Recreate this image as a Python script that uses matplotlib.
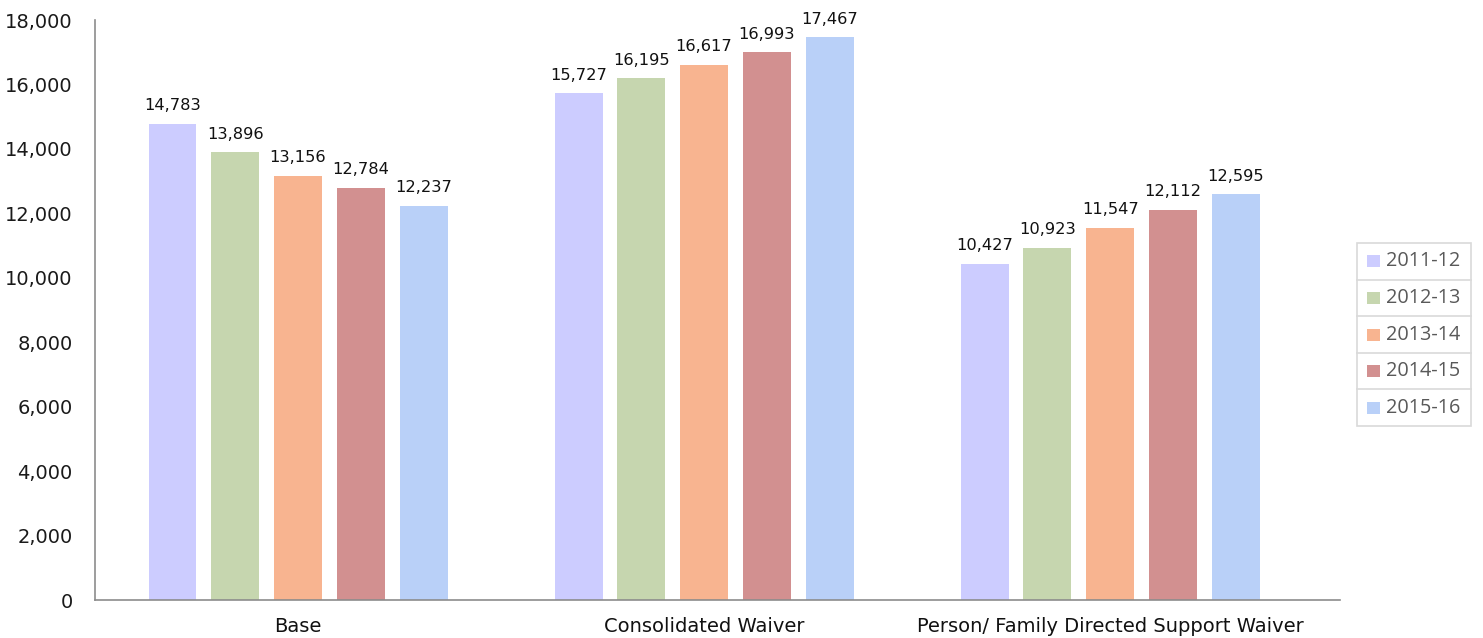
import matplotlib
matplotlib.use("Agg")
import matplotlib.pyplot as plt
from matplotlib.patches import Rectangle
from matplotlib.lines import Line2D
import numpy as np

categories = ["Base", "Consolidated Waiver", "Person/ Family Directed Support Waiver"]
series_labels = ["2011-12", "2012-13", "2013-14", "2014-15", "2015-16"]
v_2011 = [14783, 15727, 10427]
v_2012 = [13896, 16195, 10923]
v_2013 = [13156, 16617, 11547]
v_2014 = [12784, 16993, 12112]
v_2015 = [12237, 17467, 12595]
series_values = [v_2011, v_2012, v_2013, v_2014, v_2015]
colors = ["#CCCCFF", "#C6D6AF", "#F8B490", "#D29090", "#B9D0F8"]
yticks = [0, 2000, 4000, 6000, 8000, 10000, 12000, 14000, 16000, 18000]

W, H = 1483, 638
fig = plt.figure(figsize=(W / 100, H / 100), dpi=100)
ax = fig.add_axes([95 / W, 1 - 600 / H, (1340 - 95) / W, (600 - 20) / H])

x = np.arange(len(categories))
step = 0.1546
width = 0.118
for i, (lab, vals, c) in enumerate(zip(series_labels, series_values, colors)):
    pos = x + (i - 2) * step
    ax.bar(pos, vals, width=width, color=c, label=lab)
    for px, v in zip(pos, vals):
        ax.text(px, v + 330, f"{v:,}", ha="center", va="bottom",
                fontsize=11.7, color="#111111", family="DejaVu Sans")

ax.set_xlim(-0.5, 2.566)
ax.set_ylim(0, 18000)
ax.set_yticks(yticks)
ax.set_yticklabels([f"{t:,}" for t in yticks], fontsize=14, color="#1a1a1a",
                   family="DejaVu Sans")
ax.set_xticks(x)
ax.set_xticklabels(categories, fontsize=14, color="#111111", family="DejaVu Sans")
ax.tick_params(axis="both", length=0)
ax.tick_params(axis="x", pad=12)
ax.tick_params(axis="y", pad=16)
for s in ["top", "right"]:
    ax.spines[s].set_visible(False)
for s in ["left", "bottom"]:
    ax.spines[s].set_color("#8c8c8c")
    ax.spines[s].set_linewidth(1.2)

# Legend drawn as bordered rows
lx0, lx1 = 1357, 1471
ly0 = 243
row_h = 36.6
n = len(series_labels)
def fx(px):
    return px / W
def fy(py):
    return 1 - py / H
fig.patches.append(Rectangle((fx(lx0), fy(ly0 + n * row_h)), fx(lx1) - fx(lx0),
                             fy(ly0) - fy(ly0 + n * row_h), transform=fig.transFigure,
                             facecolor="white", edgecolor="#d9d9d9", linewidth=1.2))
for i, (lab, c) in enumerate(zip(series_labels, colors)):
    top = ly0 + i * row_h
    if i > 0:
        fig.lines.append(Line2D([fx(lx0), fx(lx1)], [fy(top), fy(top)],
                                transform=fig.transFigure, color="#d9d9d9", linewidth=1.2))
    cy = top + row_h / 2
    fig.patches.append(Rectangle((fx(1367), fy(cy + 6)), fx(1380) - fx(1367),
                                 fy(cy - 6) - fy(cy + 6), transform=fig.transFigure,
                                 facecolor=c, edgecolor="none"))
    fig.text(fx(1386), fy(cy), lab, ha="left", va="center", fontsize=14.3,
             color="#595959", family="Open Sans")

fig.savefig("out.png", dpi=100)
